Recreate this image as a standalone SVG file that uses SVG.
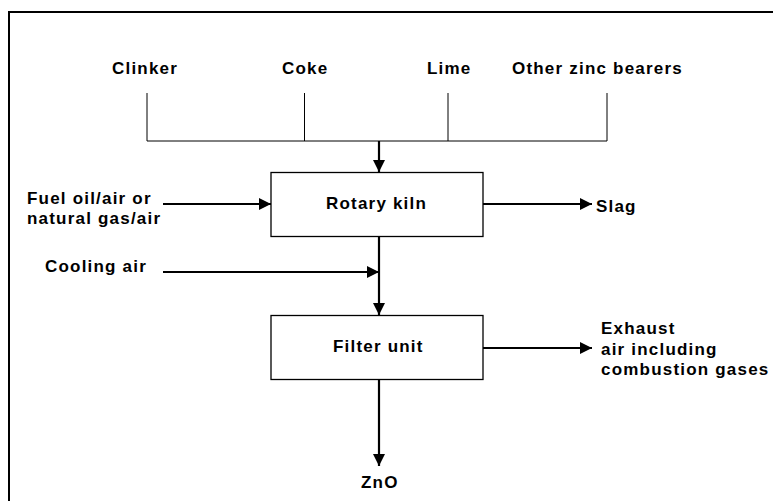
<svg xmlns="http://www.w3.org/2000/svg" width="773" height="501" viewBox="0 0 773 501">
  <style>
    .lbl { font-family: "Liberation Sans", Arial, sans-serif; font-weight: bold; font-size: 17px; letter-spacing: 1.2px; fill: #000; }
    .box { fill: #fff; stroke: #000; stroke-width: 1.3; }
    .thin { fill: none; stroke: #000; stroke-width: 1; }
    .flow { fill: none; stroke: #000; stroke-width: 2.2; marker-end: url(#arrow); }
    .frame { fill: none; stroke: #000; stroke-width: 2; }
  </style>
  <defs>
    <marker id="arrow" markerUnits="userSpaceOnUse" markerWidth="13" markerHeight="12" refX="12" refY="6" orient="auto">
      <path d="M0,0 L12,6 L0,12 z" fill="#000"/>
    </marker>
  </defs>
  <rect width="773" height="501" fill="#fff"/>
  <path class="frame" d="M9,501 V12 H773"/>

  <g id="inputs">
    <text class="lbl" x="112" y="73.5">Clinker</text>
    <text class="lbl" x="282" y="73.5">Coke</text>
    <text class="lbl" x="427" y="73.5">Lime</text>
    <text class="lbl" x="512" y="73.5">Other zinc bearers</text>
  </g>

  <g id="rotary-kiln">
    <rect class="box" x="271" y="172.5" width="212" height="64"/>
    <text class="lbl" x="326" y="208.5">Rotary kiln</text>
  </g>

  <g id="filter-unit">
    <rect class="box" x="271" y="315.5" width="212" height="64"/>
    <text class="lbl" x="333" y="352">Filter unit</text>
  </g>

  <g id="fuel">
    <text class="lbl" x="27" y="203.5">Fuel oil/air or</text>
    <text class="lbl" x="27" y="223.5">natural gas/air</text>
  </g>
  <g id="cooling-air">
    <text class="lbl" x="45" y="272">Cooling air</text>
  </g>
  <g id="slag">
    <text class="lbl" x="596" y="212">Slag</text>
  </g>
  <g id="exhaust">
    <text class="lbl" x="601" y="333.5">Exhaust</text>
    <text class="lbl" x="601" y="354.5">air including</text>
    <text class="lbl" x="601" y="375">combustion gases</text>
  </g>
  <g id="zno">
    <text class="lbl" x="361" y="488">ZnO</text>
  </g>

  <g id="connectors">
    <path class="thin" d="M147,93 V141 M304.5,93 V141 M448,93 V141 M607,93 V141 M147,141 H607"/>
    <path class="flow" d="M379,141 V172"/>
    <path class="flow" d="M163,204 H271"/>
    <path class="flow" d="M483,204 H592"/>
    <path class="flow" d="M379,237 V315"/>
    <path class="flow" d="M163,272 H379"/>
    <path class="flow" d="M379,380 V466"/>
    <path class="flow" d="M483,348 H592"/>
  </g>
</svg>
